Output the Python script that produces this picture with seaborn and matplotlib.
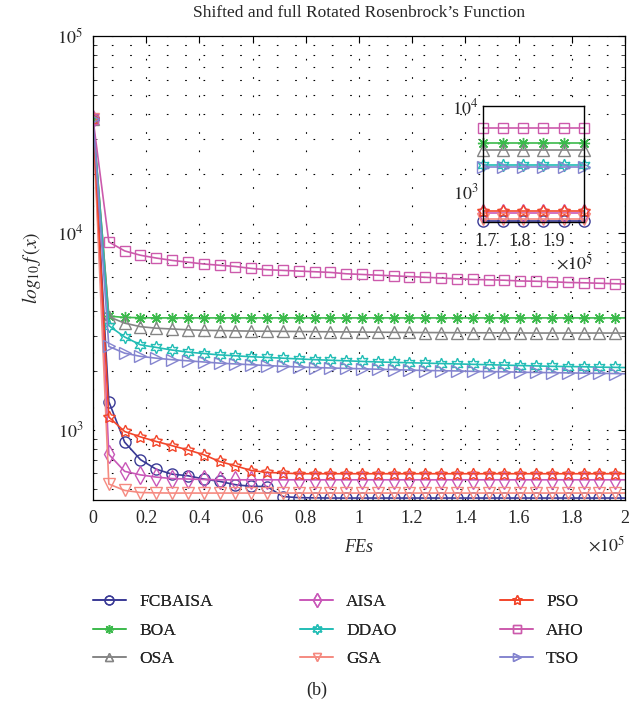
import math
import matplotlib
matplotlib.use("Agg")
import matplotlib.pyplot as plt
import seaborn as sns
import pandas as pd
from matplotlib.ticker import FixedLocator, NullFormatter, FuncFormatter, LogLocator
from matplotlib.lines import Line2D

# ---------------- data ----------------
FES = [0, 5950, 11900, 17850, 23800, 29750, 35700, 41650, 47600, 53550,
       59500, 65450, 71400, 77350, 83300, 89250, 95200, 101150, 107100, 113050,
       119000, 124950, 130900, 136850, 142800, 148750, 154700, 160650, 166600, 172550,
       178500, 184450, 190400, 196350, 200000]

FCBAISA = [38000, 1390, 865, 705, 630, 595, 584, 562, 547, 526,
           516, 515, 458, 452, 451, 450, 450, 450, 450, 450,
           450, 450, 450, 450, 450, 450, 450, 450, 450, 450,
           450, 450, 450, 450, 450]
BOA = [38000, 3780, 3720, 3710, 3700, 3700, 3700, 3700, 3700, 3700,
       3700, 3700, 3700, 3700, 3700, 3700, 3700, 3700, 3700, 3700,
       3700, 3700, 3700, 3700, 3700, 3700, 3700, 3700, 3700, 3700,
       3700, 3700, 3700, 3700, 3700]
OSA = [38000, 3750, 3480, 3340, 3280, 3250, 3220, 3200, 3190, 3180,
       3170, 3165, 3160, 3155, 3150, 3145, 3140, 3135, 3130, 3125,
       3120, 3118, 3115, 3112, 3110, 3108, 3105, 3103, 3100, 3100,
       3100, 3100, 3100, 3100, 3100]
AISA = [38000, 750, 615, 590, 575, 565, 562, 559, 557, 557,
        557, 557, 557, 557, 557, 557, 557, 557, 557, 557,
        557, 557, 557, 557, 557, 557, 557, 557, 557, 557,
        557, 557, 557, 557, 557]
DDAO = [38000, 3380, 2960, 2700, 2620, 2540, 2480, 2440, 2400, 2375,
        2350, 2330, 2310, 2290, 2270, 2255, 2240, 2225, 2210, 2200,
        2190, 2180, 2170, 2160, 2150, 2140, 2130, 2120, 2110, 2100,
        2095, 2090, 2080, 2075, 2070]
GSA = [38000, 530, 492, 480, 478, 477, 477, 477, 477, 477,
       477, 477, 477, 477, 477, 477, 477, 477, 477, 477,
       477, 477, 477, 477, 477, 477, 477, 477, 477, 477,
       477, 477, 477, 477, 477]
PSO = [38000, 1160, 980, 920, 872, 830, 790, 747, 690, 656,
       621, 607, 603, 598, 598, 598, 598, 598, 598, 598,
       598, 598, 598, 598, 598, 598, 598, 598, 598, 598,
       598, 598, 598, 598, 598]
AHO = [38000, 9000, 8100, 7700, 7450, 7250, 7100, 6950, 6850, 6750,
       6600, 6500, 6450, 6400, 6350, 6300, 6200, 6150, 6100, 6050,
       6000, 5950, 5900, 5850, 5800, 5780, 5750, 5700, 5680, 5650,
       5600, 5580, 5550, 5520, 5500]
TSO = [38000, 2650, 2450, 2360, 2310, 2270, 2240, 2210, 2180, 2160,
       2140, 2120, 2100, 2085, 2070, 2060, 2050, 2040, 2030, 2020,
       2010, 2000, 1995, 1990, 1980, 1975, 1970, 1960, 1955, 1950,
       1945, 1940, 1935, 1930, 1925]

NAMES = ["FCBAISA", "BOA", "OSA", "AISA", "DDAO", "GSA", "PSO", "AHO", "TSO"]
SERIES = [FCBAISA, BOA, OSA, AISA, DDAO, GSA, PSO, AHO, TSO]
COLORS = ["#3a3a96", "#3cba4c", "#858585", "#c957b8", "#22bdb5",
          "#f58a80", "#f2452a", "#cc5aac", "#8585cf"]
MARKERS = ["o", (8, 2, 0), "^", "d", (6, 1, 0), "v", (5, 1, 0), "s", ">"]
MSIZES = [8, 8, 8, 9, 9, 8, 9, 7, 8]

INSET_FES = [169300, 175250, 181200, 187150, 193100, 199050]

XTICKS = [0, 20000, 40000, 60000, 80000, 100000, 120000, 140000, 160000, 180000, 200000]
YTICKS = [1e3, 1e4, 1e5]

TITLE = "Shifted and full Rotated Rosenbrock\u2019s Function"

# ---------------- style ----------------
sns.set_style("white")
plt.rcParams["font.family"] = ["Liberation Serif", "DejaVu Serif"]
plt.rcParams["mathtext.fontset"] = "stix"
plt.rcParams["xtick.direction"] = "in"
plt.rcParams["ytick.direction"] = "in"

fig = plt.figure(figsize=(6.37, 7.12), dpi=100)
ax = fig.add_axes([0.146, 0.2978, 0.835, 0.6516])

GRID_LS = (0, (1.5, 15))


def pow_fmt(v, p):
    return r"$10^{%d}$" % round(math.log10(v))


for name, vals, col, mk, ms in zip(NAMES, SERIES, COLORS, MARKERS, MSIZES):
    df = pd.DataFrame({"FEs": FES, "f": vals})
    sns.lineplot(data=df, x="FEs", y="f", ax=ax, color=col, linewidth=1.2,
                 marker=mk, markersize=ms, markerfacecolor="none",
                 markeredgecolor=col, markeredgewidth=1.0,
                 markevery=list(range(len(FES) - 1)), label=name, legend=False)

ax.set_yscale("log")
ax.set_xlim(0, 200000)
ax.set_ylim(440, 1e5)

ax.xaxis.set_major_locator(FixedLocator(XTICKS))
ax.xaxis.set_major_formatter(FuncFormatter(lambda v, p: f"{v/1e5:g}"))
ax.yaxis.set_major_locator(FixedLocator(YTICKS))
ax.yaxis.set_major_formatter(FuncFormatter(pow_fmt))
ax.yaxis.set_minor_locator(LogLocator(base=10, subs=range(2, 10)))
ax.yaxis.set_minor_formatter(NullFormatter())

ax.tick_params(axis="both", which="major", length=5, width=0.8, labelsize=13,
               top=True, right=True, color="black", pad=7)
ax.tick_params(axis="y", which="minor", length=3, width=0.6, right=True, left=True)
ax.grid(True, which="major", axis="both", color="black", linestyle=GRID_LS, linewidth=0.8)
ax.grid(True, which="minor", axis="y", color="black", linestyle=GRID_LS, linewidth=0.8)
for s in ax.spines.values():
    s.set_color("black")
    s.set_linewidth(0.9)

ax.set_xlabel("FEs", fontsize=13, style="italic", labelpad=9)
ax.set_ylabel(r"$log_{10}\,f\,(x)$", fontsize=14, labelpad=10)
ax.set_title(TITLE, fontsize=12.5, pad=14)
fig.text(0.981, 0.234, r"$\times10^{5}$", fontsize=13, ha="right", va="center")

# ---------------- inset ----------------
axin = fig.add_axes([0.7578, 0.6882, 0.159, 0.1629])
axin.set_facecolor("white")
for name, vals, col, mk, ms in zip(NAMES, SERIES, COLORS, MARKERS, MSIZES):
    axin.plot(INSET_FES, [vals[-1]] * len(INSET_FES), color=col, linewidth=1.2,
              marker=mk, markersize=ms, markerfacecolor="none",
              markeredgecolor=col, markeredgewidth=1.0, clip_on=False)
axin.set_yscale("log")
axin.set_xlim(INSET_FES[0], INSET_FES[-1])
axin.set_ylim(440, 1e4)
axin.xaxis.set_major_locator(FixedLocator([170000, 180000, 190000]))
axin.xaxis.set_major_formatter(FuncFormatter(lambda v, p: f"{v/1e5:g}"))
axin.yaxis.set_major_locator(FixedLocator([1e3, 1e4]))
axin.yaxis.set_major_formatter(FuncFormatter(pow_fmt))
axin.yaxis.set_minor_locator(FixedLocator([]))
axin.tick_params(axis="x", which="major", length=0, labelsize=13, pad=8)
axin.tick_params(axis="y", which="major", length=0, labelsize=13, pad=3)
for s in axin.spines.values():
    s.set_color("black")
    s.set_linewidth(1.0)
fig.text(0.932, 0.630, r"$\times10^{5}$", fontsize=13, ha="right", va="center")

# ---------------- legend ----------------
handles = [Line2D([0], [0], color=c, marker=m, markersize=ms * 0.8, markerfacecolor="none",
                  markeredgecolor=c, linewidth=1.2) for c, m, ms in zip(COLORS, MARKERS, MSIZES)]
col_x = [0.146, 0.471, 0.785]
for i in range(3):
    leg = fig.legend(handles[3 * i:3 * i + 3], NAMES[3 * i:3 * i + 3], loc="upper left",
                     bbox_to_anchor=(col_x[i], 0.166), frameon=False, fontsize=12.5,
                     handlelength=1.9, handletextpad=0.75, labelspacing=0.72,
                     borderaxespad=0, borderpad=0)
    fig.add_artist(leg)

fig.text(0.498, 0.031, "(b)", fontsize=13, ha="center", va="center")

fig.savefig("out.png", dpi=100)
